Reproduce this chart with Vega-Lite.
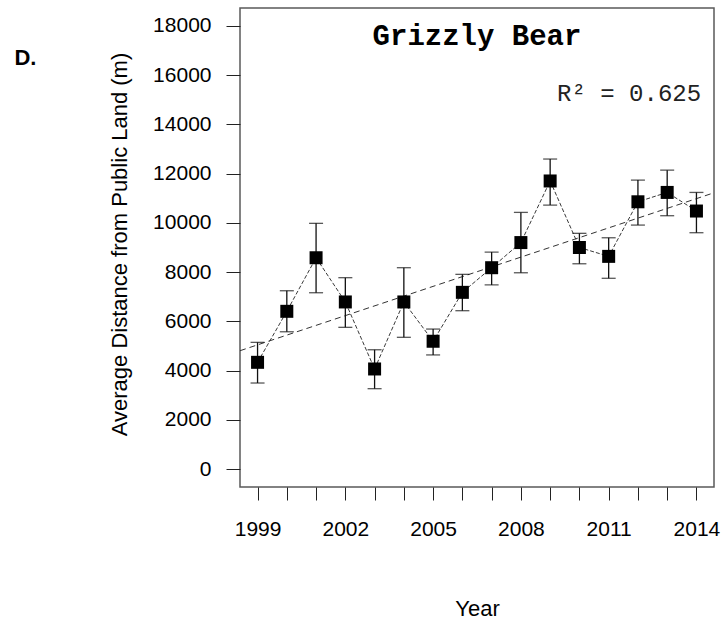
{
  "$schema": "https://vega.github.io/schema/vega-lite/v6.json",
  "width": 474,
  "height": 479,
  "autosize": {"type": "none"},
  "padding": {"left": 240, "top": 8, "right": 9, "bottom": 135},
  "background": "white",
  "config": {
    "view": {"stroke": "#5a5a5a", "strokeWidth": 1.5},
    "axis": {"labelFont": "Liberation Sans", "titleFont": "Liberation Sans", "labelColor": "#000", "titleColor": "#000", "tickColor": "#222", "tickWidth": 1, "grid": false, "domain": false, "titleFontWeight": "normal"}
  },
  "datasets": {
    "points": [
      {"year": 1999, "value": 4340, "lo": 3500, "hi": 5150},
      {"year": 2000, "value": 6410, "lo": 5580, "hi": 7245},
      {"year": 2001, "value": 8584, "lo": 7164, "hi": 9980},
      {"year": 2002, "value": 6790, "lo": 5760, "hi": 7775},
      {"year": 2003, "value": 4070, "lo": 3270, "hi": 4850},
      {"year": 2004, "value": 6790, "lo": 5355, "hi": 8180},
      {"year": 2005, "value": 5195, "lo": 4640, "hi": 5690},
      {"year": 2006, "value": 7180, "lo": 6435, "hi": 7910},
      {"year": 2007, "value": 8180, "lo": 7480, "hi": 8815},
      {"year": 2008, "value": 9200, "lo": 7975, "hi": 10425},
      {"year": 2009, "value": 11700, "lo": 10720, "hi": 12590},
      {"year": 2010, "value": 9000, "lo": 8340, "hi": 9575},
      {"year": 2011, "value": 8640, "lo": 7750, "hi": 9395},
      {"year": 2012, "value": 10855, "lo": 9910, "hi": 11735},
      {"year": 2013, "value": 11235, "lo": 10290, "hi": 12140},
      {"year": 2014, "value": 10480, "lo": 9600, "hi": 11235}
    ],
    "trend": [
      {"year": 1998.4, "value": 4811},
      {"year": 2014.6, "value": 11221}
    ]
  },
  "layer": [
    {
      "data": {"name": "trend"},
      "mark": {"type": "line", "color": "#333", "strokeWidth": 1, "strokeDash": [6, 4], "clip": true},
      "encoding": {
        "x": {"field": "year", "type": "quantitative", "title": "Year", "scale": {"domain": [1998.4, 2014.6], "nice": false, "zero": false},
          "axis": {"values": [1999,2000,2001,2002,2003,2004,2005,2006,2007,2008,2009,2010,2011,2012,2013,2014], "tickCount": 30, "format": "d",
            "labelExpr": "(datum.value - 1999) % 3 == 0 ? datum.label : ''", "labelOverlap": false, "labelFlush": false,
            "tickSize": 13, "labelFontSize": 21, "labelBaseline": "alphabetic", "labelPadding": 35,
            "title": "Year", "titleFontSize": 22, "titleX": 237, "titleY": 128, "titleBaseline": "alphabetic", "titleAlign": "center", "titleAnchor": null}},
        "y": {"field": "value", "type": "quantitative", "title": "Average Distance from Public Land (m)", "scale": {"domain": [-720, 18720], "nice": false, "zero": false},
          "axis": {"values": [0,2000,4000,6000,8000,10000,12000,14000,16000,18000], "tickCount": 30, "format": "d", "labelOverlap": false, "labelFlush": false,
            "tickSize": 14, "labelFontSize": 21, "labelPadding": 15, "labelBaseline": "middle",
            "title": "Average Distance from Public Land (m)", "titleFontSize": 22, "titleAngle": -90, "titleX": -113.5, "titleY": 236, "titleBaseline": "alphabetic", "titleAlign": "center"}}
      }
    },
    {
      "data": {"name": "points"},
      "mark": {"type": "line", "color": "#3a3a3a", "strokeWidth": 1, "strokeDash": [4, 2]},
      "encoding": {
        "x": {"field": "year", "type": "quantitative", "title": "Year", "scale": {"domain": [1998.4, 2014.6], "nice": false, "zero": false}},
        "y": {"field": "value", "type": "quantitative", "title": "Average Distance from Public Land (m)", "scale": {"domain": [-720, 18720], "nice": false, "zero": false}}
      }
    },
    {
      "data": {"name": "points"},
      "mark": {"type": "errorbar", "color": "#111", "thickness": 1.3, "ticks": {"size": 14}},
      "encoding": {
        "x": {"field": "year", "type": "quantitative", "title": "Year", "scale": {"domain": [1998.4, 2014.6], "nice": false, "zero": false}},
        "y": {"field": "lo", "type": "quantitative", "title": "Average Distance from Public Land (m)", "scale": {"domain": [-720, 18720], "nice": false, "zero": false}},
        "y2": {"field": "hi"}
      }
    },
    {
      "data": {"name": "points"},
      "mark": {"type": "point", "shape": "square", "filled": true, "size": 169, "color": "#000", "opacity": 1},
      "encoding": {
        "x": {"field": "year", "type": "quantitative", "title": "Year", "scale": {"domain": [1998.4, 2014.6], "nice": false, "zero": false}},
        "y": {"field": "value", "type": "quantitative", "title": "Average Distance from Public Land (m)", "scale": {"domain": [-720, 18720], "nice": false, "zero": false}}
      }
    },
    {
      "data": {"values": [{"label": "Grizzly Bear"}]},
      "mark": {"type": "text", "font": "Liberation Mono", "fontWeight": "bold", "fontSize": 29, "align": "center", "baseline": "alphabetic", "color": "#000"},
      "encoding": {
        "x": {"datum": 2006.5, "type": "quantitative"},
        "y": {"datum": 17210, "type": "quantitative"},
        "text": {"field": "label"}
      }
    },
    {
      "data": {"values": [{"label": "R² = 0.625"}]},
      "mark": {"type": "text", "font": "Liberation Mono", "fontSize": 24, "align": "right", "baseline": "alphabetic", "color": "#222"},
      "encoding": {
        "x": {"datum": 2014.16, "type": "quantitative"},
        "y": {"datum": 14953, "type": "quantitative"},
        "text": {"field": "label"}
      }
    },
    {
      "data": {"values": [{"label": "D."}]},
      "mark": {"type": "text", "font": "Liberation Sans", "fontWeight": "bold", "fontSize": 22, "align": "left", "baseline": "alphabetic", "color": "#000"},
      "encoding": {
        "x": {"datum": 1990.69, "type": "quantitative"},
        "y": {"datum": 16402, "type": "quantitative"},
        "text": {"field": "label"}
      }
    }
  ]
}
